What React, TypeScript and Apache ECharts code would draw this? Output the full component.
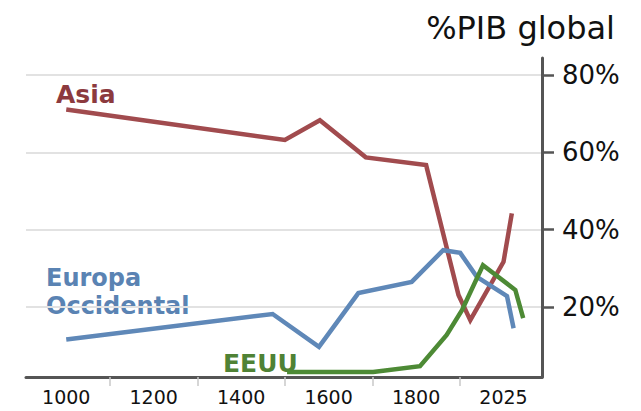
import React, { useEffect, useRef } from "react";
import * as echarts from "echarts";

const asiaYears = [1000, 1500, 1580, 1685, 1823, 1897, 1924, 2000, 2019];
const asiaShare = [71.1, 63.2, 68.3, 58.7, 56.7, 23.1, 16.6, 31.7, 44.2];
const europeYears = [1000, 1472, 1578, 1668, 1790, 1862, 1901, 1939, 2008, 2023];
const europeShare = [11.6, 18.2, 9.7, 23.6, 26.5, 34.7, 34.0, 27.8, 22.8, 14.5];
const usaYears = [1505, 1702, 1809, 1870, 1905, 1953, 2027, 2045];
const usaShare = [3.2, 3.2, 4.7, 12.8, 19.2, 30.8, 24.4, 17.1];

const xLabelValues = [1000, 1200, 1400, 1600, 1800, 2000];
const xLabelTexts = ["1000", "1200", "1400", "1600", "1800", "2025"];
const xTickValues = [1100, 1300, 1500, 1700, 1900];
const yTickValues = [20, 40, 60, 80];

const FONT = "'DejaVu Sans', Verdana, sans-serif";

const zip = (xs: number[], ys: number[]) => xs.map((x, i) => [x, ys[i]]);

export default function App() {
  const ref = useRef<HTMLDivElement>(null);
  useEffect(() => {
    if (!ref.current) return;
    const chart = echarts.init(ref.current, undefined, { renderer: "svg" });
    const txt = (
      text: string,
      x: number,
      y: number,
      size: number,
      color: string,
      bold: boolean,
      align = "left"
    ) => ({
      type: "text",
      x,
      y,
      style: {
        text,
        fontSize: size,
        fontFamily: FONT,
        fontWeight: bold ? "bold" : "normal",
        fill: color,
        align,
        verticalAlign: "middle",
        textAlign: align,
        textVerticalAlign: "middle",
      },
    });
    chart.setOption({
      animation: false,
      backgroundColor: "#ffffff",
      textStyle: { fontFamily: FONT },
      grid: { left: 26, right: 99, top: 58, bottom: 34, outerBoundsMode: "none" },
      xAxis: {
        type: "value",
        min: 908,
        max: 2088,
        axisLine: { show: true, lineStyle: { color: "#555555", width: 3 } },
        axisTick: { show: true, customValues: xTickValues, length: 9, lineStyle: { color: "#c8c8c8", width: 1.5 } },
        axisLabel: {
          customValues: xLabelValues,
          formatter: (v: number) => xLabelTexts[xLabelValues.indexOf(v)] ?? String(v),
          fontSize: 19,
          color: "#111111",
          margin: 10,
          fontFamily: FONT,
        },
        splitLine: { show: false },
      },
      yAxis: {
        type: "value",
        position: "right",
        min: 1.9,
        max: 84.4,
        axisLine: { show: true, lineStyle: { color: "#555555", width: 3 } },
        axisTick: { show: true, customValues: yTickValues, length: 12, lineStyle: { color: "#555555", width: 2.5 } },
        axisLabel: {
          customValues: yTickValues,
          formatter: "{value}%",
          fontSize: 26,
          color: "#111111",
          margin: 20,
          padding: [12, 0, 0, 0],
          fontFamily: FONT,
        },
        splitLine: { show: true, lineStyle: { color: "#e2e2e2", width: 2 } },
      },
      series: [
        {
          name: "Asia",
          type: "line",
          data: zip(asiaYears, asiaShare),
          symbol: "none",
          lineStyle: { color: "#a14b4e", width: 4.5, join: "miter" },
        },
        {
          name: "Europa Occidental",
          type: "line",
          data: zip(europeYears, europeShare),
          symbol: "none",
          lineStyle: { color: "#5f88b8", width: 4.5, join: "miter" },
        },
        {
          name: "EEUU",
          type: "line",
          data: zip(usaYears, usaShare),
          symbol: "none",
          lineStyle: { color: "#4d8a35", width: 4.5, join: "miter" },
        },
      ],
      graphic: [
        txt("%PIB global", 615, 28, 32, "#111111", false, "right"),
        txt("Asia", 56, 94, 25, "#8c3a3e", true),
        txt("Europa", 46, 278, 24, "#5a83b3", true),
        txt("Occidental", 46, 306, 24, "#5a83b3", true),
        txt("EEUU", 223, 363.5, 25, "#4f8235", true),
      ],
    });
    return () => chart.dispose();
  }, []);
  return (
    <div
      ref={ref}
      style={{ position: "fixed", left: 0, top: 0, width: 641, height: 411 }}
    />
  );
}
